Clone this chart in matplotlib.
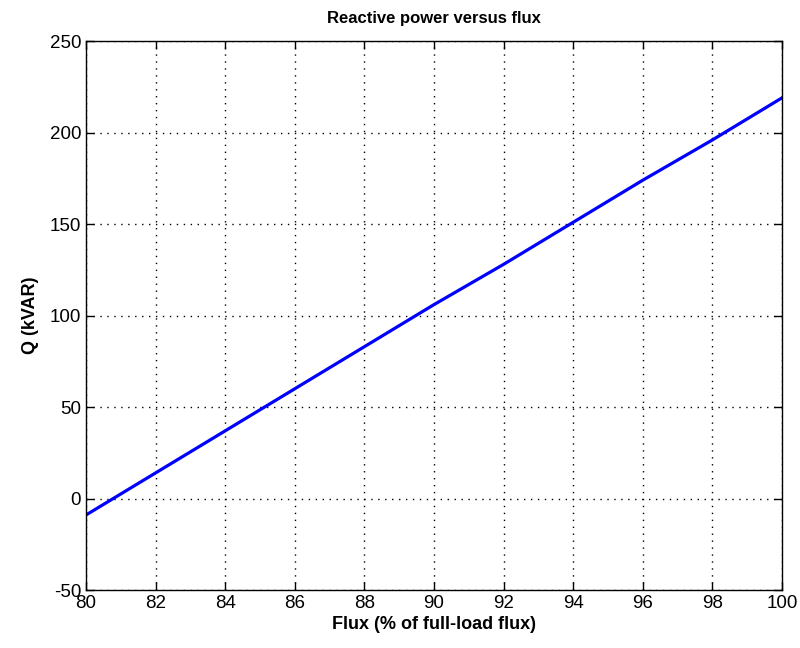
import matplotlib
matplotlib.use("Agg")
import matplotlib.pyplot as plt

plt.rcParams["font.family"] = ["Liberation Sans", "DejaVu Sans"]
plt.rcParams["axes.unicode_minus"] = False

flux = [80, 82, 84, 86, 88, 90, 92, 94, 96, 98, 100]
q_kvar = [-9, 14, 37, 60, 83, 106, 128, 151, 174, 196, 219]
xticks = [80, 82, 84, 86, 88, 90, 92, 94, 96, 98, 100]
yticks = [-50, 0, 50, 100, 150, 200, 250]

fig = plt.figure(figsize=(8, 6.48), dpi=100)
ax = fig.add_axes([0.1075, 0.0895, 0.87, 0.847])

ax.plot(flux, q_kvar, color="#0000ff", linewidth=2.3)

ax.set_xlim(80, 100)
ax.set_ylim(-50, 250)
ax.set_xticks(xticks)
ax.set_yticks(yticks)
ax.tick_params(direction="in", top=True, right=True, length=6, labelsize=13.5, width=1)
ax.grid(True, color="black", linestyle=(0, (1, 4)), linewidth=1)
for s in ax.spines.values():
    s.set_linewidth(1)

ax.set_title("Reactive power versus flux", fontsize=12, fontweight="bold", pad=13)
ax.set_xlabel("Flux (% of full-load flux)", fontsize=13, fontweight="bold", labelpad=3)
ax.set_ylabel("Q (kVAR)", fontsize=13, fontweight="bold", labelpad=8)

fig.savefig("out.png", dpi=100)
